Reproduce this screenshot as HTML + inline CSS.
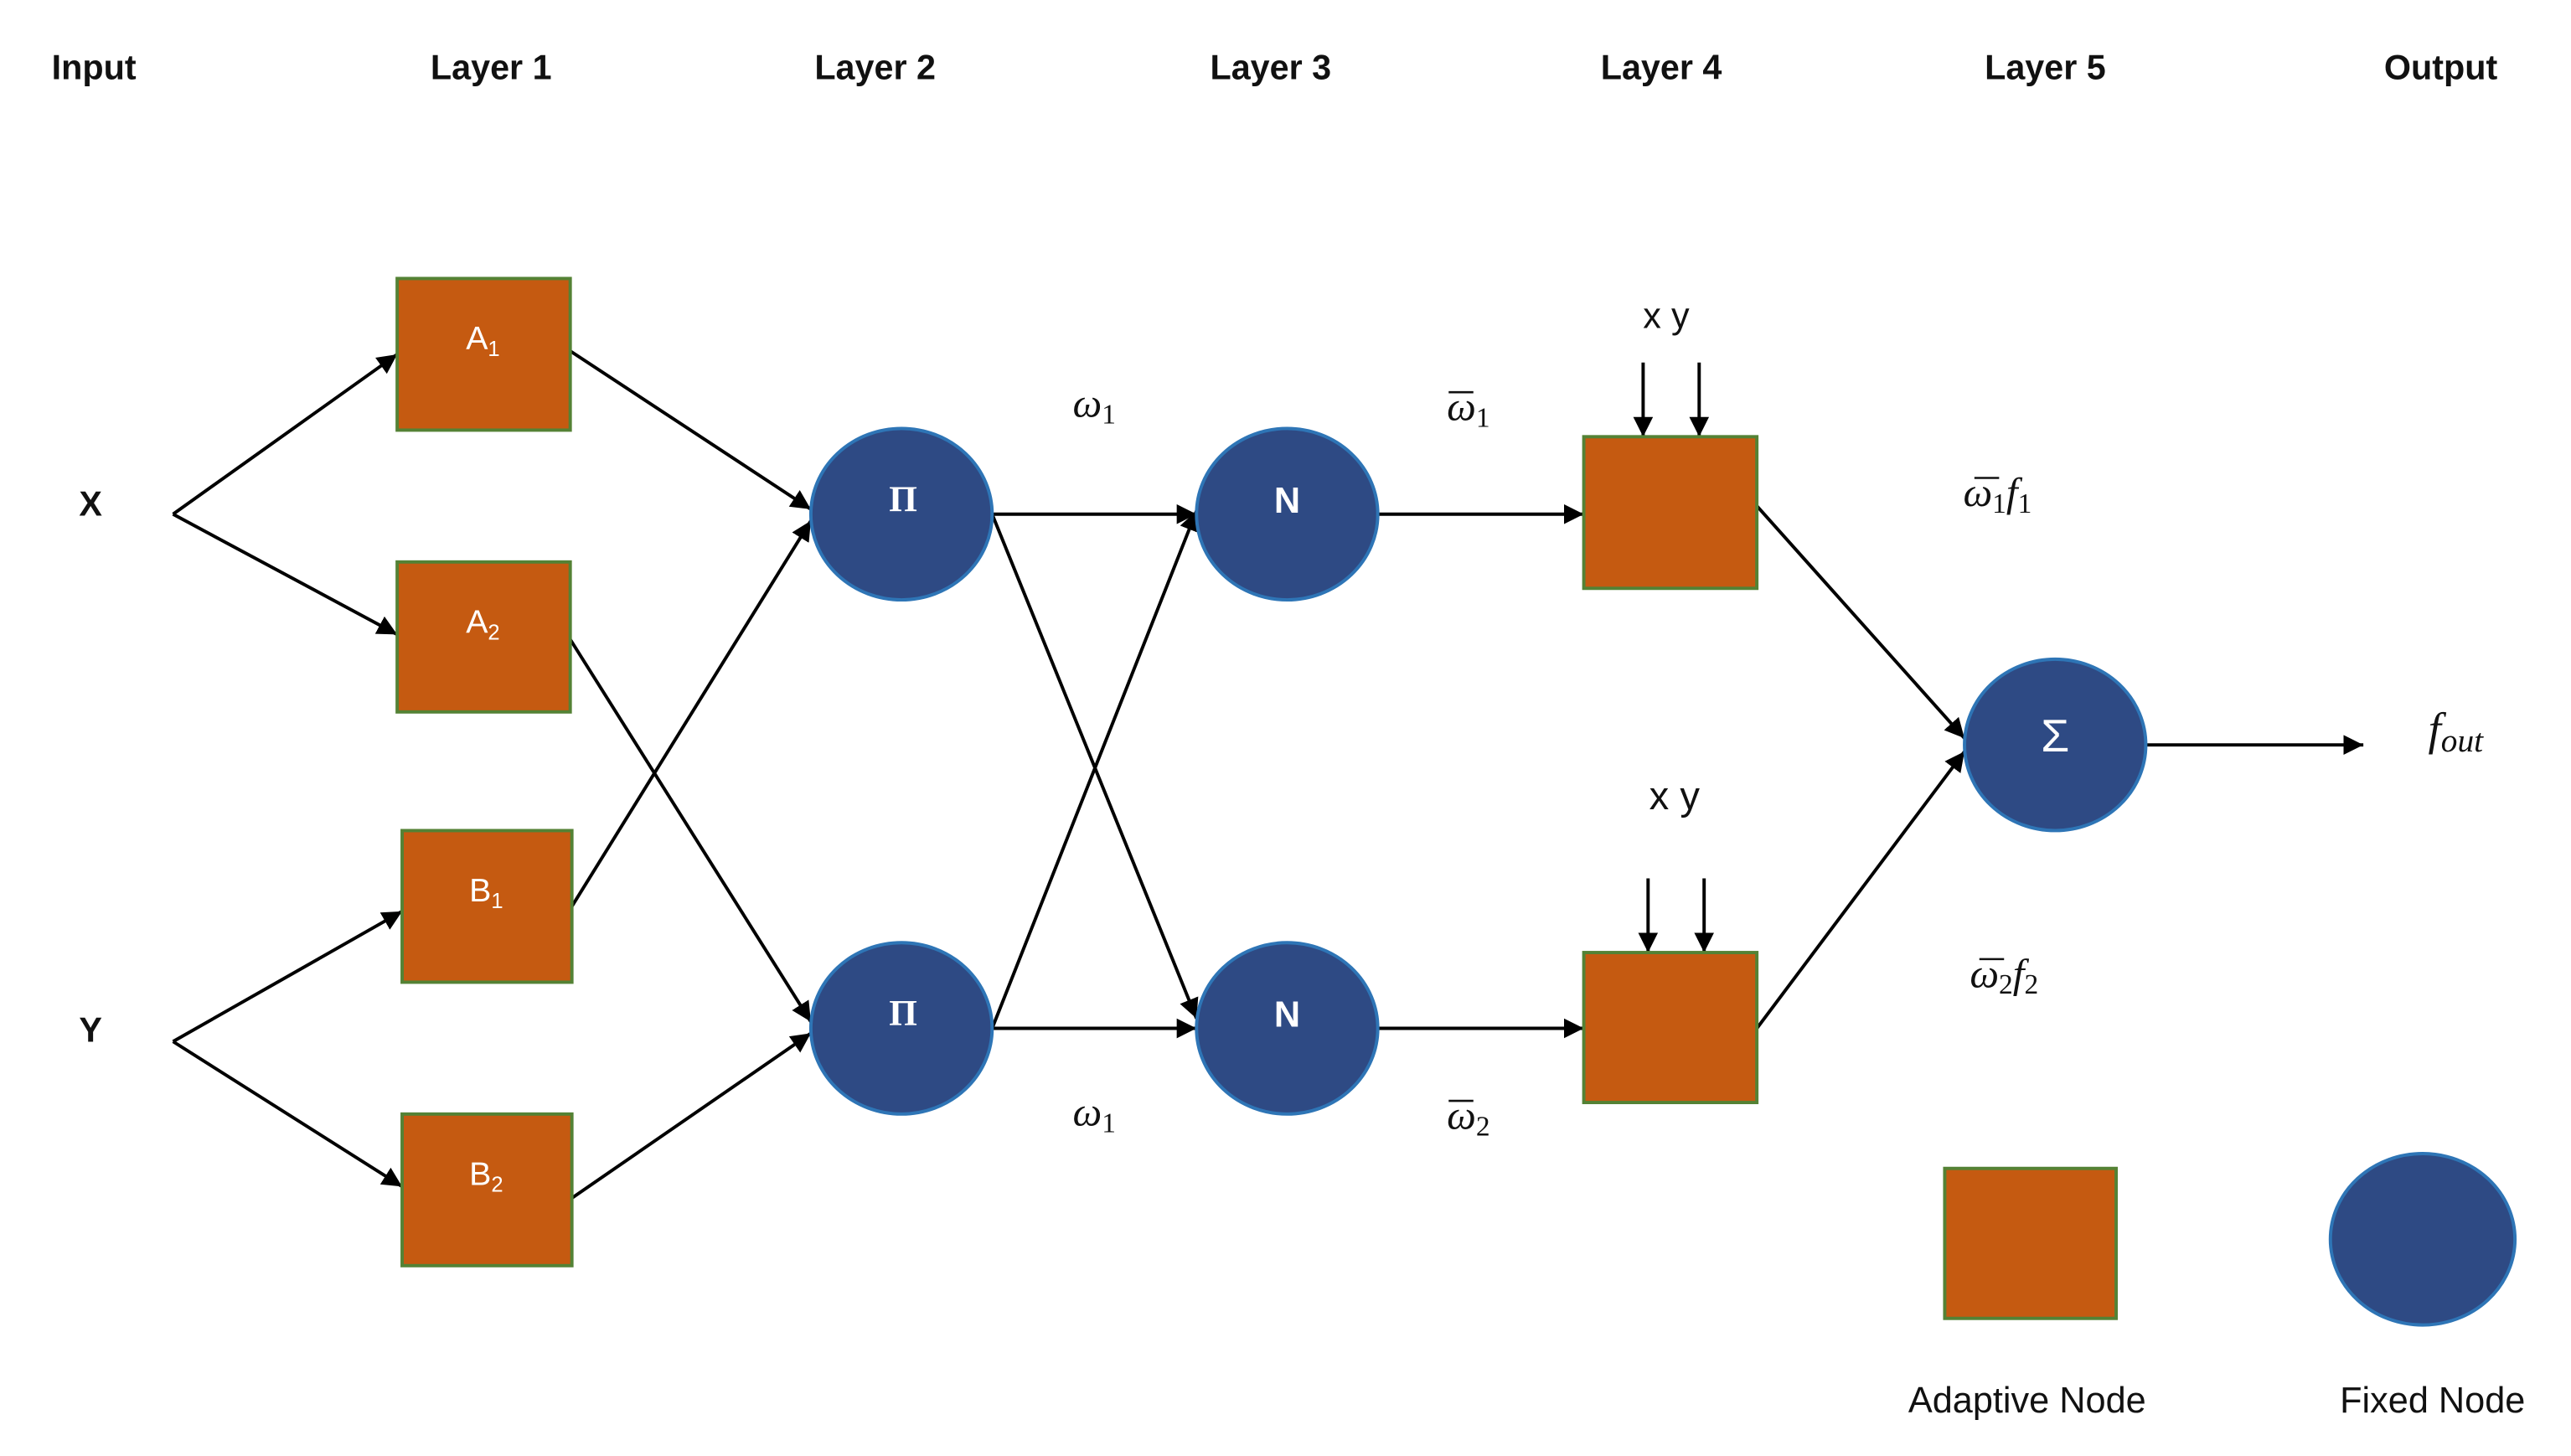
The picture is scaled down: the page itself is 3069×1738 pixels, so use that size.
<!DOCTYPE html>
<html><head><meta charset="utf-8"><style>
html,body{margin:0;padding:0;background:#fff;}
svg{display:block;}
.t{font-family:"Liberation Sans",sans-serif;font-weight:bold;font-size:21px;fill:#111;text-anchor:middle;}
.m{font-family:"Liberation Serif",serif;font-style:italic;font-size:25px;fill:#111;text-anchor:middle;}
.w{font-family:"Liberation Sans",sans-serif;fill:#fff;text-anchor:middle;}
.l{font-family:"Liberation Sans",sans-serif;font-size:22px;fill:#111;text-anchor:middle;}
</style></head><body>
<svg width="3069" height="1738" viewBox="0 0 1560 883.5" preserveAspectRatio="none" xmlns="http://www.w3.org/2000/svg">
<defs>
<marker id="b" viewBox="0 0 10 10" refX="10" refY="5" markerWidth="12" markerHeight="12" markerUnits="userSpaceOnUse" orient="auto">
<path d="M0,0 L10,5 L0,10 z" fill="#000"/></marker>
</defs>
<rect width="1560" height="883.5" fill="#fff"/>
<g class="t">
<text x="57" y="48">Input</text><text x="298" y="48">Layer 1</text><text x="531" y="48">Layer 2</text>
<text x="771" y="48">Layer 3</text><text x="1008" y="48">Layer 4</text><text x="1241" y="48">Layer 5</text>
<text x="1481" y="48">Output</text>
<text x="55" y="313">X</text><text x="55" y="632">Y</text>
</g>
<g stroke="#000" stroke-width="2" fill="none">
<line x1="105" y1="312" x2="241" y2="215" marker-end="url(#b)"/>
<line x1="105" y1="312" x2="241" y2="385" marker-end="url(#b)"/>
<line x1="105" y1="632" x2="244" y2="553" marker-end="url(#b)"/>
<line x1="105" y1="632" x2="244" y2="720" marker-end="url(#b)"/>
<line x1="346" y1="213" x2="492" y2="309" marker-end="url(#b)"/>
<line x1="346" y1="388" x2="492" y2="620" marker-end="url(#b)"/>
<line x1="347" y1="550" x2="492" y2="316" marker-end="url(#b)"/>
<line x1="347" y1="727" x2="492" y2="627" marker-end="url(#b)"/>
<line x1="602" y1="312" x2="726" y2="312" marker-end="url(#b)"/>
<line x1="602" y1="312" x2="726" y2="618" marker-end="url(#b)"/>
<line x1="602" y1="624" x2="726" y2="310" marker-end="url(#b)"/>
<line x1="602" y1="624" x2="726" y2="624" marker-end="url(#b)"/>
<line x1="836" y1="312" x2="961" y2="312" marker-end="url(#b)"/>
<line x1="836" y1="624" x2="961" y2="624" marker-end="url(#b)"/>
<line x1="1066" y1="307" x2="1192" y2="448" marker-end="url(#b)"/>
<line x1="1066" y1="624" x2="1192" y2="456" marker-end="url(#b)"/>
<line x1="1302" y1="452" x2="1434" y2="452" marker-end="url(#b)"/>
<line x1="997" y1="220" x2="997" y2="265" marker-end="url(#b)"/>
<line x1="1031" y1="220" x2="1031" y2="265" marker-end="url(#b)"/>
<line x1="1000" y1="533" x2="1000" y2="578" marker-end="url(#b)"/>
<line x1="1034" y1="533" x2="1034" y2="578" marker-end="url(#b)"/>
</g>
<g fill="#C55A11" stroke="#548235" stroke-width="2">
<rect x="241" y="169" width="105" height="92"/>
<rect x="241" y="341" width="105" height="91"/>
<rect x="244" y="504" width="103" height="92"/>
<rect x="244" y="676" width="103" height="92"/>
<rect x="961" y="265" width="105" height="92"/>
<rect x="961" y="578" width="105" height="91"/>
<rect x="1180" y="709" width="104" height="91"/>
</g>
<g fill="#2E4A84" stroke="#2E75B6" stroke-width="2">
<ellipse cx="547" cy="312" rx="55" ry="52"/>
<ellipse cx="547" cy="624" rx="55" ry="52"/>
<ellipse cx="781" cy="312" rx="55" ry="52"/>
<ellipse cx="781" cy="624" rx="55" ry="52"/>
<ellipse cx="1247" cy="452" rx="55" ry="52"/>
<ellipse cx="1470" cy="752" rx="56" ry="52"/>
</g>
<g class="w" font-size="20">
<text x="293" y="212">A<tspan font-size="13" dy="4">1</tspan></text>
<text x="293" y="384">A<tspan font-size="13" dy="4">2</tspan></text>
<text x="295" y="547">B<tspan font-size="13" dy="4">1</tspan></text>
<text x="295" y="719">B<tspan font-size="13" dy="4">2</tspan></text>
</g>
<g class="w" font-weight="bold" font-size="22">
<text x="548" y="310" font-family="Liberation Serif,serif">Π</text>
<text x="548" y="622" font-family="Liberation Serif,serif">Π</text>
<text x="781" y="311">N</text><text x="781" y="623">N</text>
<text x="1247" y="456" font-weight="normal" font-size="28">Σ</text>
</g>
<g class="l">
<text x="1011" y="199">x y</text>
<text x="1016" y="491" font-size="24">x y</text>
<text x="1230" y="857">Adaptive Node</text>
<text x="1476" y="857">Fixed Node</text>
</g>
<g class="m">
<text x="664" y="253">ω<tspan font-style="normal" font-size="17" dy="4">1</tspan></text>
<text x="664" y="683">ω<tspan font-style="normal" font-size="17" dy="4">1</tspan></text>
<text x="891" y="255">ω<tspan font-style="normal" font-size="17" dy="4">1</tspan></text>
<text x="891" y="685">ω<tspan font-style="normal" font-size="17" dy="4">2</tspan></text>
<text x="1212" y="307">ω<tspan font-style="normal" font-size="17" dy="4">1</tspan><tspan dy="-4">f</tspan><tspan font-style="normal" font-size="17" dy="4">1</tspan></text>
<text x="1216" y="599">ω<tspan font-style="normal" font-size="17" dy="4">2</tspan><tspan dy="-4">f</tspan><tspan font-style="normal" font-size="17" dy="4">2</tspan></text>
<text x="1490" y="452" font-size="28">f<tspan font-size="20" dy="4">out</tspan></text>
</g>
<g stroke="#111" stroke-width="1.3">
<line x1="879" y1="238" x2="894" y2="238"/>
<line x1="879" y1="668" x2="894" y2="668"/>
<line x1="1198" y1="290" x2="1213" y2="290"/>
<line x1="1201" y1="582" x2="1216" y2="582"/>
</g>
</svg>
</body></html>
